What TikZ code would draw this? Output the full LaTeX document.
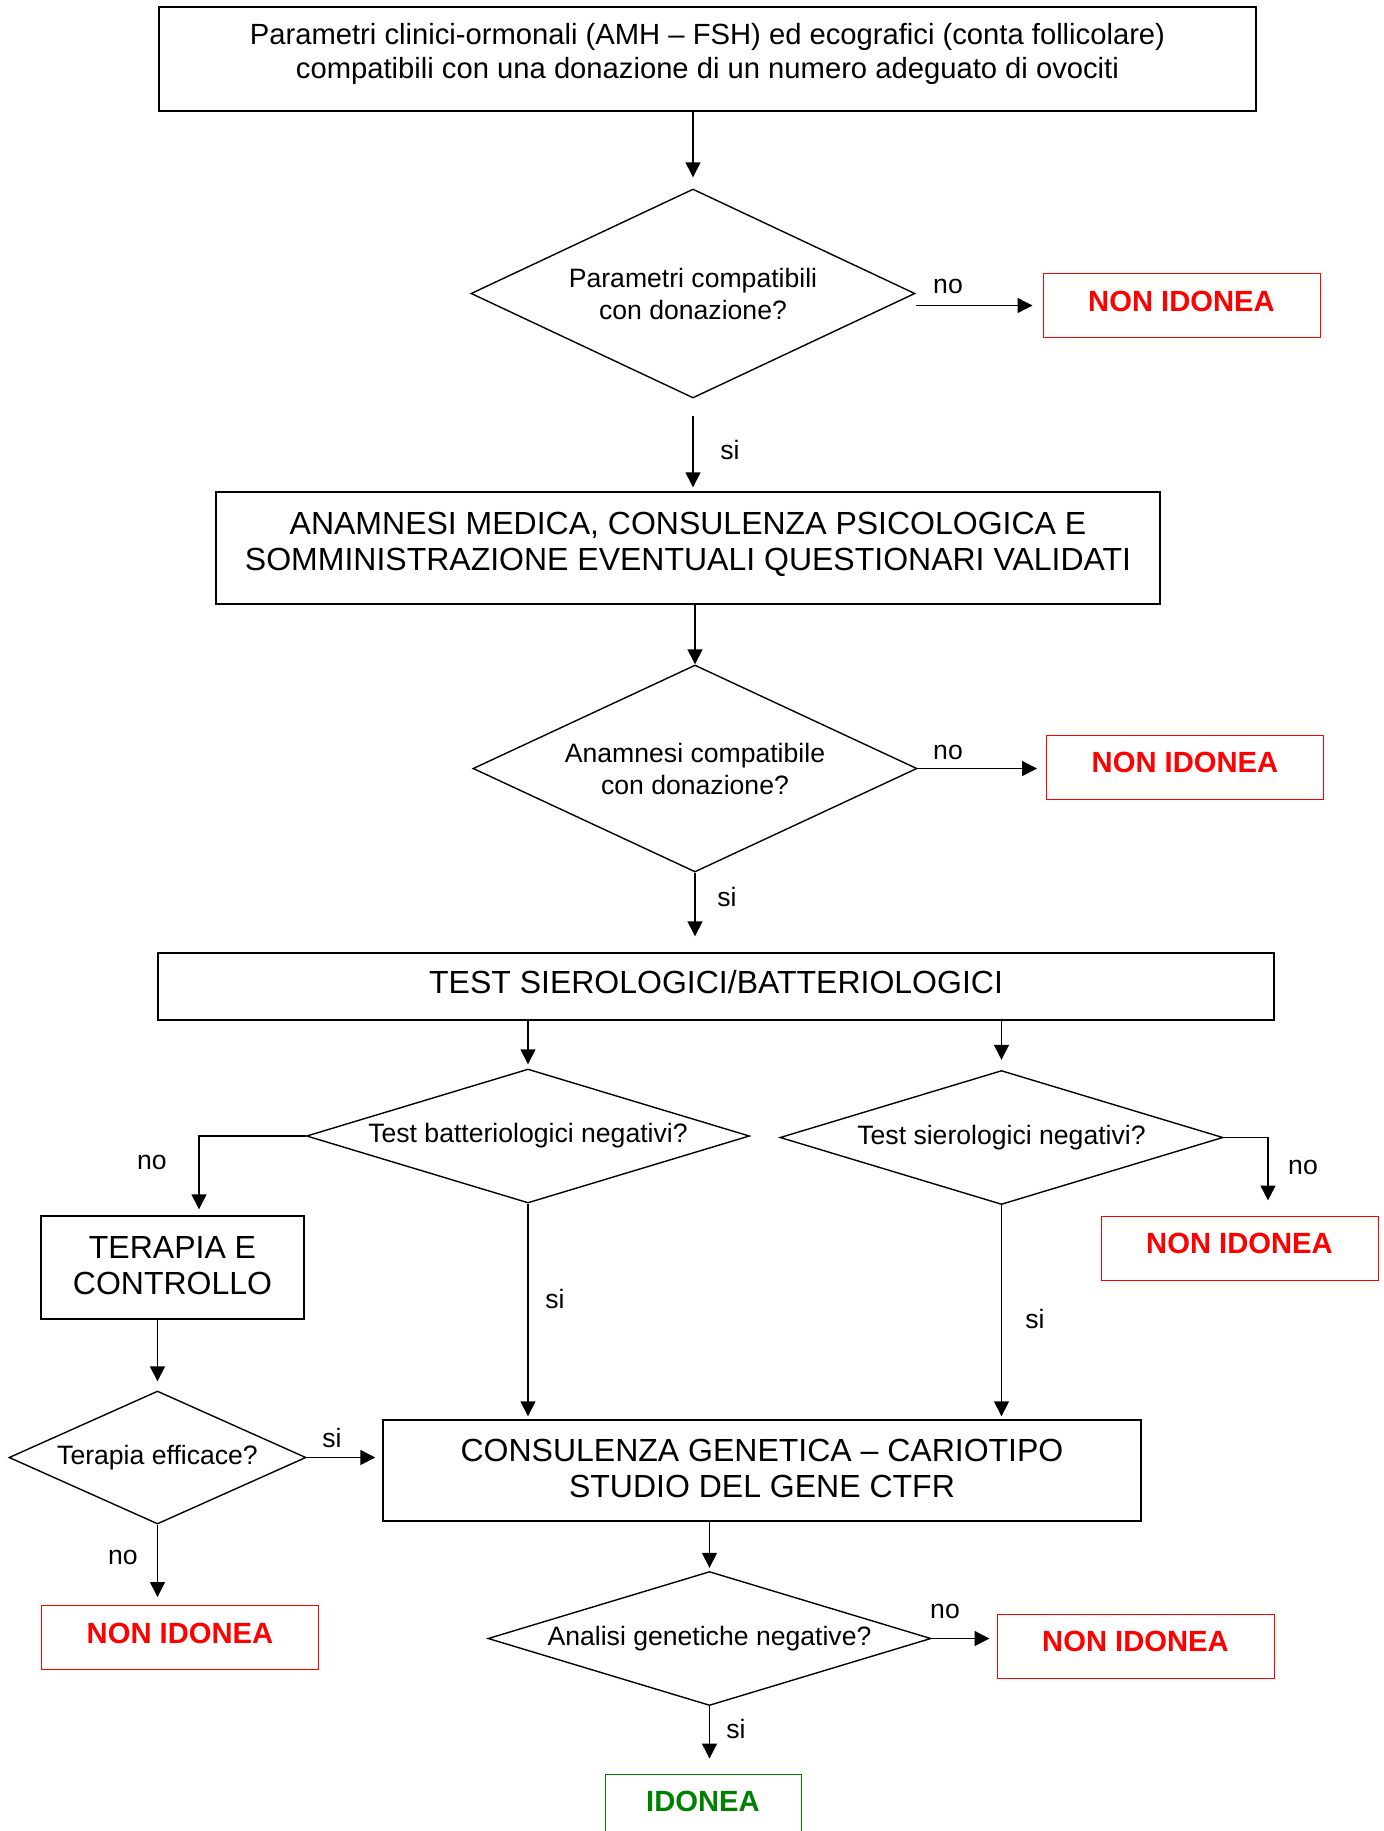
\documentclass[tikz,border=0pt]{standalone}
\usepackage{fontspec}
\setmainfont{Liberation Sans}
\usetikzlibrary{shapes.geometric,arrows.meta,calc}
\definecolor{okgreen}{RGB}{0,128,0}

\begin{document}
\begin{tikzpicture}[x=0.5pt,y=-0.5pt,
    box/.style={draw,line width=0.7pt,align=center,inner sep=2pt,text depth=4.5pt,font=\fontsize{16}{18}\selectfont},
    ask/.style={draw,diamond,line width=0.7pt,inner sep=0pt,align=center,font=\fontsize{13.3}{16}\selectfont},
    nobox/.style={draw=red,line width=0.5pt,text=red,minimum width=138.5pt,minimum height=32pt,text depth=4.5pt,font=\fontsize{14.6}{17}\selectfont\bfseries},
    lbl/.style={inner sep=0pt,font=\fontsize{13.3}{16}\selectfont},
    arr/.style={-{Triangle[length=7.5pt,width=7.5pt]},line width=0.7pt}]
  \useasboundingbox (0,0) rectangle (1384,1831);
  \begin{scope}
    \def\qwide{221.5pt}
    \def\qhigh{67pt}

    \node[box,minimum width=548.5pt,minimum height=52pt,text depth=8pt,font=\fontsize{14.6}{17}\selectfont] (b1) at (707.5,59)
      {Parametri clinici-ormonali (AMH – FSH) ed ecografici (conta follicolare)\\compatibili con una donazione di un numero adeguato di ovociti};
    \node[ask,aspect=2.1,minimum width=222pt,minimum height=104.5pt] (d1) at (693,293.5) {Parametri compatibili\\con donazione?};
    \node[nobox] (n1) at (1181.5,305.5) {NON IDONEA};
    \node[box,minimum width=472pt,minimum height=56pt,text depth=6.5pt] (b2) at (688,548)
      {ANAMNESI MEDICA, CONSULENZA PSICOLOGICA E\\SOMMINISTRAZIONE EVENTUALI QUESTIONARI VALIDATI};
    \node[ask,aspect=2.1,minimum width=222pt,minimum height=103.5pt] (d2) at (695,768.5) {Anamnesi compatibile\\con donazione?};
    \node[nobox] (n2) at (1185,767) {NON IDONEA};
    \node[box,minimum width=558pt,minimum height=33.5pt] (b3) at (716,986.5) {TEST SIEROLOGICI/BATTERIOLOGICI};
    \node[ask,aspect=3.3,minimum width=\qwide,minimum height=\qhigh] (d3) at (528,1136) {Test batteriologici negativi?};
    \node[ask,aspect=3.3,minimum width=\qwide,minimum height=\qhigh] (d4) at (1001.5,1137.5) {Test sierologici negativi?};
    \node[box,minimum width=131.5pt,minimum height=51.5pt,text depth=2.5pt] (t1) at (172.5,1267.5) {TERAPIA E\\CONTROLLO};
    \node[nobox] (n3) at (1239.5,1248) {NON IDONEA};
    \node[ask,aspect=2.2,minimum width=148.5pt,minimum height=66.5pt] (d5) at (157.5,1457.5) {Terapia efficace?};
    \node[box,minimum width=379pt,minimum height=50.5pt,text depth=2.5pt] (b5) at (762,1470.5)
      {CONSULENZA GENETICA – CARIOTIPO\\STUDIO DEL GENE CTFR};
    \node[nobox] (n4) at (180,1637.5) {NON IDONEA};
    \node[ask,aspect=3.3,minimum width=\qwide,minimum height=\qhigh] (d6) at (709.5,1638.5) {Analisi genetiche negative?};
    \node[nobox] (n5) at (1135.5,1646) {NON IDONEA};
    \node[nobox,draw=okgreen,text=okgreen,minimum width=98pt] (ok) at (703,1806) {IDONEA};

    \node[lbl] (no1) at (948,286) {no};
    \node[lbl] (si1) at (730,450) {si};
    \node[lbl] (no2) at (948,752) {no};
    \node[lbl] (si2) at (727,897) {si};
    \node[lbl] (no3) at (152,1162) {no};
    \node[lbl] (si3) at (555,1299) {si};
    \node[lbl] (no4) at (1303,1167) {no};
    \node[lbl] (si4) at (1035,1319) {si};
    \node[lbl] (si5) at (332,1438) {si};
    \node[lbl] (no5) at (123,1557) {no};
    \node[lbl] (no6) at (945,1611) {no};
    \node[lbl] (si6) at (736,1729) {si};

    \draw[arr,shorten >=5.5pt] (d1.north |- b1.south) -- (d1.north);
    \draw[arr,shorten >=5pt] (d1.east |- n1.west) -- (n1.west);
    \draw[arr,shorten <=8.5pt,shorten >=2pt] (d1.south) -- (d1.south |- b2.north);
    \draw[arr] (d2.north |- b2.south) -- (d2.north);
    \draw[arr,shorten >=4.5pt] (d2.east) -- (d2.east -| n2.west);
    \draw[arr,shorten >=8pt] (d2.south) -- (d2.south |- b3.north);
    \draw[arr,shorten >=2pt] (d3.north |- b3.south) -- (d3.north);
    \draw[arr,shorten >=5pt] (d4.north |- b3.south) -- (d4.north);
    \draw[arr,shorten >=3pt] (d3.west) -| ($(t1.north)+(26.5,0)$);
    \draw[arr,shorten >=1.5pt] (d3.south) -- (d3.south |- b5.north);
    \draw[arr,shorten >=7.5pt] (d4.east) -| ($(n3.north)+(28.5,0)$);
    \draw[arr,shorten >=1.5pt] (d4.south) -- (d4.south |- b5.north);
    \draw[arr,shorten >=4.5pt] (d5.north |- t1.south) -- (d5.north);
    \draw[arr,shorten >=3.5pt] (d5.east) -- (d5.east -| b5.west);
    \draw[arr,shorten >=4pt] (d5.south) -- (d5.south |- n4.north);
    \draw[arr,shorten >=1.5pt] (d6.north |- b5.south) -- (d6.north);
    \draw[arr,shorten >=3.5pt] (d6.east) -- (d6.east -| n5.west);
    \draw[arr,shorten >=7.5pt] (d6.south) -- (d6.south |- ok.north);
  \end{scope}
\end{tikzpicture}
\end{document}
